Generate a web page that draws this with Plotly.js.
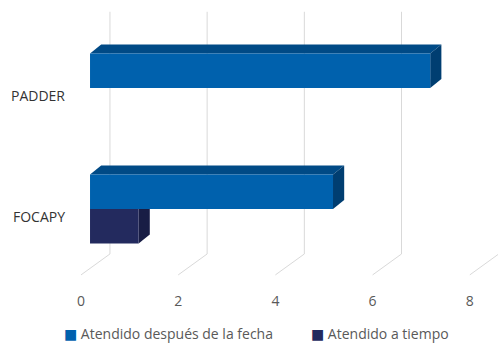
<!DOCTYPE html>
<html>
<head>
<meta charset="utf-8">
<script src="https://cdn.plot.ly/plotly-3.0.1.min.js"></script>
<style>html,body{margin:0;padding:0;background:#fff;}#chart{width:498px;height:345px;}</style>
</head>
<body>
<div id="chart"></div>
<script>
// ---- data ----
const categories = ['FOCAPY', 'PADDER'];
const seriesNames = ['Atendido a tiempo', 'Atendido después de la fecha'];
const aTiempo = [1, 0];
const despues = [5, 7];
const xTicks = [0, 2, 4, 6, 8];

// ---- style ----
const frontColors = ['#232A5E', '#0061AD'];
const topColors = ['#1B2150', '#004A86'];
const sideColors = ['#181D45', '#003E71'];
const gridColor = '#D9D9D9';

const values = [aTiempo, despues];
const catPos = categories.map((c, i) => i);
const barW = 0.285;          // width of one bar in category units (bargap 0.43, 2 bars)
const dx = 0.23, dy = 0.074; // 3D depth offset in data units
const backX = 0.41;          // back wall offset in x units
const frontX = -0.185;       // front floor edge offset
const wallTop = 1.63, wallBottom = -0.372, floorFront = -0.545;

const traces = values.map((vals, k) => ({
  type: 'bar', orientation: 'h', name: seriesNames[k],
  x: vals, y: catPos,
  marker: {color: frontColors[k], line: {width: 0}},
  showlegend: false, hoverinfo: 'x+name'
}));

const shapes = [];
// back wall grid lines and floor lines
xTicks.forEach(t => {
  shapes.push({type: 'line', xref: 'x', yref: 'y', layer: 'below',
    x0: t + backX, x1: t + backX, y0: wallBottom, y1: wallTop,
    line: {color: gridColor, width: 1}});
  shapes.push({type: 'line', xref: 'x', yref: 'y', layer: 'below',
    x0: t + backX, x1: t + frontX, y0: wallBottom, y1: floorFront,
    line: {color: gridColor, width: 1}});
});
// 3D faces
values.forEach((vals, k) => {
  vals.forEach((v, i) => {
    if (v <= 0) return;
    const y0 = catPos[i] - barW + k * barW;
    const y1 = y0 + barW;
    shapes.push({type: 'path', xref: 'x', yref: 'y', layer: 'below',
      path: `M0,${y1} L${v},${y1} L${v + dx},${y1 + dy} L${dx},${y1 + dy} Z`,
      fillcolor: topColors[k], line: {width: 0}});
    shapes.push({type: 'path', xref: 'x', yref: 'y', layer: 'below',
      path: `M${v},${y0} L${v},${y1} L${v + dx},${y1 + dy} L${v + dx},${y0 + dy} Z`,
      fillcolor: sideColors[k], line: {width: 0}});
  });
});

// legend as annotations (Excel style: small square right before text)
const legendOrder = [1, 0];
const legendX = [-0.031, 0.553];
const annotations = legendOrder.map((k, j) => ({
  xref: 'paper', yref: 'paper', x: legendX[j], y: -0.166,
  xanchor: 'left', yanchor: 'middle', showarrow: false,
  text: `<span style="color:${frontColors[k]};font-family:'DejaVu Sans'">■</span> ${seriesNames[k]}`,
  font: {family: 'Open Sans', size: 14, color: '#595959'}
}));

const layout = {
  width: 498, height: 345,
  margin: {l: 75, r: 0, t: 5, b: 58},
  paper_bgcolor: '#fff', plot_bgcolor: 'rgba(0,0,0,0)',
  barmode: 'group', bargap: 0.43, bargroupgap: 0,
  showlegend: false,
  font: {family: 'Open Sans', size: 14, color: '#595959'},
  xaxis: {range: [-0.309, 8.395], tickvals: xTicks, ticktext: xTicks.map(String),
    showgrid: false, zeroline: false, showline: false, ticks: '',
    ticklabelshift: -9, ticklabelstandoff: 4,
    tickfont: {family: 'Open Sans', size: 14, color: '#595959'}},
  yaxis: {range: [-0.645, 1.686], tickvals: catPos, ticktext: categories,
    showgrid: false, zeroline: false, showline: false, ticks: '',
    ticklabelshift: 8, ticklabelstandoff: 9,
    tickfont: {family: 'Open Sans', size: 14, color: '#333333'}},
  shapes: shapes,
  annotations: annotations
};

Plotly.newPlot('chart', traces, layout, {displayModeBar: false, staticPlot: true});
</script>
</body>
</html>
